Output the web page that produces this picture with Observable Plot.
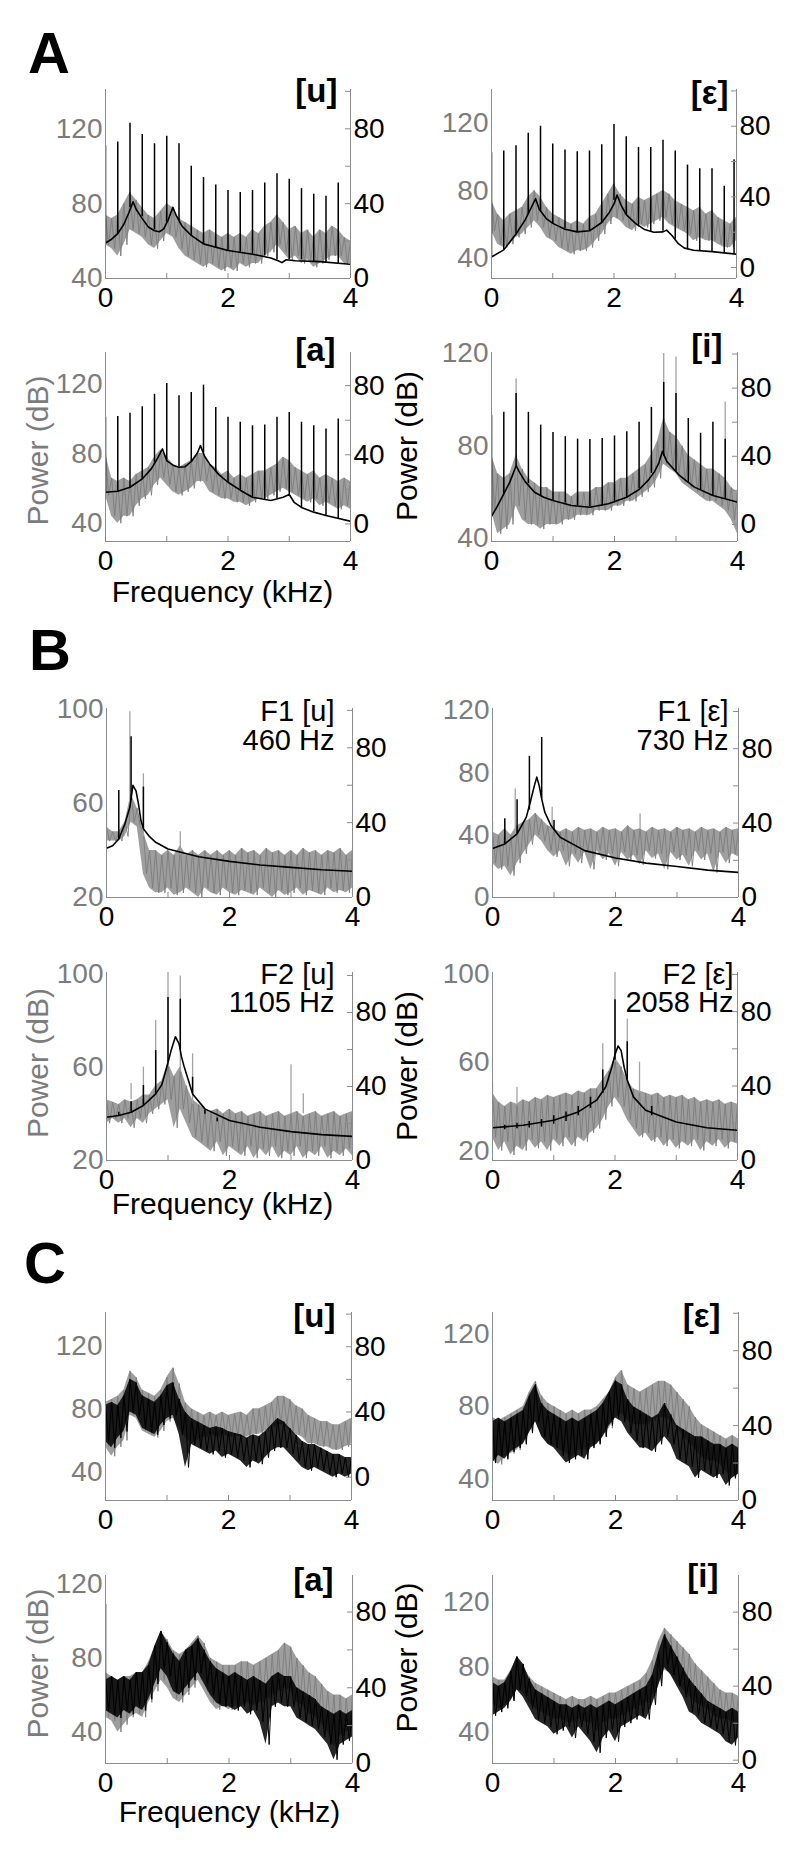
<!DOCTYPE html>
<html><head><meta charset="utf-8">
<script src="https://cdn.jsdelivr.net/npm/d3@7"></script>
<script src="https://cdn.jsdelivr.net/npm/@observablehq/plot@0.6"></script>
<style>
html,body{margin:0;padding:0;background:#fff}
body{width:800px;height:1857px;position:relative;overflow:hidden;font-family:"Liberation Sans",Arial,sans-serif}
</style></head>
<body>
<svg id="ov" width="800" height="1857" style="position:absolute;left:0;top:0" font-family="Liberation Sans, Arial, sans-serif"></svg>
<script>
// ---------- shared grids / ticks ----------
const FREQ = [0,0.1,0.2,0.3,0.4,0.5,0.6,0.7,0.8,0.9,1,1.1,1.2,1.3,1.4,1.5,1.6,1.7,1.8,1.9,2,2.1,2.2,2.3,2.4,2.5,2.6,2.7,2.8,2.9,3,3.1,3.2,3.3,3.4,3.5,3.6,3.7,3.8,3.9,4];
const HARM_F = [0,0.2,0.4,0.6,0.8,1.0,1.2,1.4,1.6,1.8,2.0,2.2,2.4,2.6,2.8,3.0,3.2,3.4,3.6,3.8];
const X_LABELS = [0,2,4];
const X_MINOR = [0,1,2,3,4];
const RIGHT_LABELS = [0,40,80];
const RIGHT_MINOR = [0,20,40,60,80,100];

// ---------- A [u] ----------
const A_u_grayHi = [74,72,74,80,86,82,78,74,72,76,80,78,72,70,68,66,64,66,64,62,64,62,64,62,66,64,68,70,74,70,66,68,64,66,62,66,64,68,66,62,60];
const A_u_grayLo = [58,56,52,58,66,64,62,58,56,60,64,62,56,52,50,48,46,48,46,44,46,44,48,46,48,48,52,54,58,54,50,52,48,50,46,48,50,52,52,48,48];
const A_u_harmTop = [71,73,83,77,72,76,72,60,54,50,47,46,47,51,56,53,48,45,44,51];
const A_u_harmBase = [19,24,38,33,26,30,31,23,18,16,15,14,13,12,10,10,10,9,8.5,8];
const A_u_envF = [0,0.1,0.2,0.3,0.38,0.45,0.5,0.6,0.7,0.8,0.88,0.95,1.02,1.1,1.15,1.25,1.4,1.6,2.0,2.4,2.7,2.82,2.88,2.95,3.1,3.5,4.0];
const A_u_envV = [19,21,24,29,35,41,37,32,27.5,25.5,25,26.5,31,38,34,28,23,18.5,15,13,11,9.5,8.5,10,9.5,9,7.6];

// ---------- A [ε] ----------
const A_e_grayHi = [74,66,62,66,68,70,76,80,76,70,66,64,62,60,62,60,64,66,72,78,84,78,74,72,76,74,76,78,80,78,74,72,70,68,70,66,68,64,62,60,64];
const A_e_grayLo = [56,48,46,48,52,54,58,62,58,52,50,46,44,42,44,44,46,50,54,60,64,62,58,56,60,58,60,62,64,60,58,56,54,50,52,50,50,48,46,46,50];
const A_e_harmF = [0,0.2,0.4,0.6,0.8,1.0,1.2,1.4,1.6,1.8,2.0,2.2,2.4,2.6,2.8,3.0,3.2,3.4,3.6,3.8,3.96];
const A_e_harmTop = [65,66,69,76,80,70,66.5,65.5,66,69.5,81,74,68,68,72,66,58,56,56,46,61];
const A_e_harmBase = [6,10,19,30,32,25,22,20,21,25.5,38,30,23,20,20.5,16,10.5,9.5,9,8.5,7.8];
const A_e_envF = [0,0.2,0.4,0.55,0.65,0.72,0.78,0.9,1.0,1.2,1.4,1.6,1.8,1.92,2.0,2.05,2.12,2.2,2.35,2.5,2.65,2.8,2.86,2.95,3.05,3.15,3.3,3.6,4.0];
const A_e_envV = [6,10,19,27,34,39,33,27.5,25,21.7,20.2,20.8,25.5,31,36,41,35,30,25,21.5,20,20.2,21.2,18,13.5,11,9.8,9,7.6];

// ---------- A [a] ----------
const A_a_grayHi = [80,66,64,66,64,68,70,72,78,82,78,74,72,74,76,80,80,74,72,68,70,66,68,66,68,70,70,72,74,78,76,72,70,68,70,66,68,66,64,66,64];
const A_a_grayLo = [56,44,40,44,44,50,54,56,62,66,62,58,56,58,60,64,64,58,56,54,54,52,52,50,52,54,54,56,58,60,58,56,54,52,54,50,52,50,48,50,48];
const A_a_harmTop = [61.7,62.2,64,67.8,75,81.3,74.2,76.1,80.3,67.4,61.7,58.8,56.8,57.2,61.7,64.5,58.8,56.8,54.9,60.7];
const A_a_harmBase = [18.3,18.9,21.2,26,35.6,37,32.8,36,41,30,24,19.5,15.4,14,14.5,17,9,7,4.8,3];
const A_a_envF = [0,0.2,0.4,0.6,0.75,0.85,0.93,1.0,1.1,1.2,1.3,1.4,1.5,1.55,1.62,1.7,1.85,2.0,2.2,2.4,2.7,2.9,3.0,3.08,3.2,3.4,3.6,4.0];
const A_a_envV = [18.3,18.9,21.2,26,32,38,43.4,36.6,34,32.8,33.1,36,41,45.3,39,34.7,28.5,24.1,19.5,15.4,13.5,15.4,17,12.5,9.5,6.8,4.8,1.5];

// ---------- A [i] ----------
const A_i_grayHi = [76,68,66,68,76,70,66,64,62,62,60,60,60,58,60,60,60,62,62,64,64,66,66,68,70,72,76,82,92,86,84,80,76,74,72,70,70,68,66,62,60];
const A_i_grayLo = [52,42,44,46,54,48,46,46,44,46,46,46,48,48,50,50,50,52,52,52,54,54,56,56,58,60,62,66,72,70,68,64,62,60,58,56,56,54,52,48,42];
const A_i_tipF = [0,0.4,2.8,3.0,3.8];
const A_i_tipTop = [93,109,120,118.5,99];
const A_i_tipBase = [76,66,85,80,62];
const A_i_harmTop = [63.8,65.8,76.9,65.8,58.3,54,51.5,50.1,49.8,50.5,51.9,54.4,59.9,68.7,83.3,76.9,62.2,53.5,60,50];
const A_i_harmBase = [4.7,18,33,24,17,14,12.5,11,10.2,10.8,12.5,15.5,21,30,40,30.6,24,20,17,15];
const A_i_envF = [0,0.1,0.2,0.3,0.4,0.45,0.55,0.7,0.85,1.0,1.3,1.6,1.9,2.2,2.4,2.55,2.65,2.72,2.78,2.85,2.95,3.05,3.3,3.6,4.0];
const A_i_envV = [4.7,11,18,25,34.5,31,25,18.9,16,14,11.1,10.1,12.1,16,20.5,26,31,36,42.9,37,33,29,21.9,17,13.1];

// ---------- B F1 [u] ----------
const B_1u_grayHi = [50,48,48,52,64,58,48,40,40,38,40,38,42,38,40,38,40,38,40,38,40,38,41,39,40,38,41,39,40,38,40,38,41,39,40,38,40,39,41,38,40];
const B_1u_grayLo = [44,44,44,46,52,50,30,24,22,22,24,21,22,24,22,20,24,22,21,24,22,21,23,22,21,24,22,20,23,21,22,24,21,23,22,21,24,22,23,22,24];
const B_1u_tipF = [0,0.38,0.6,1.2];
const B_1u_tipTop = [56,99,72.6,48];
const B_1u_tipBase = [46,60,46,38];
const B_1u_harmF = [0.2,0.4,0.6];
const B_1u_harmTop = [57.2,85.9,59];
const B_1u_harmBase = [31.3,51.9,36.7];
const B_1u_envF = [0,0.1,0.2,0.3,0.38,0.43,0.48,0.52,0.56,0.6,0.7,0.8,1.0,1.5,2.0,2.5,3.0,3.5,4.0];
const B_1u_envV = [26.3,27.7,31.3,39.4,48.3,59.9,57,50,41.1,36.7,32.5,29.5,25.9,21.8,19.3,17.4,16.1,14.8,14];

// ---------- B F1 [ε] ----------
const B_1e_grayHi = [42,40,44,40,46,48,50,54,50,46,44,42,44,42,45,43,44,42,45,43,44,42,46,43,44,42,45,43,44,42,45,43,44,42,45,43,44,42,45,43,44];
const B_1e_grayLo = [22,18,20,14,22,28,34,40,36,30,26,30,20,28,22,29,18,30,24,28,20,29,24,27,21,30,25,28,18,29,24,27,20,30,24,28,16,29,22,28,26];
const B_1e_tipF = [0,0.37,0.97,2.4];
const B_1e_tipTop = [48,69.6,57.8,53.5];
const B_1e_tipBase = [40,36,42,44];
const B_1e_harmF = [0.2,0.4,0.6,0.8,1.0];
const B_1e_harmTop = [42.3,52.5,75.9,86,41.4];
const B_1e_harmBase = [28.8,34.2,47,53,36];
const B_1e_envF = [0,0.2,0.4,0.55,0.62,0.68,0.72,0.76,0.8,0.85,0.95,1.1,1.5,2.0,2.5,3.0,3.5,4.0];
const B_1e_envV = [26.4,28.8,34.2,43.2,52,60,64.7,60,53,45.9,38.7,32.4,25.2,21.2,18.5,16.7,14.7,13.5];

// ---------- B F2 [u] ----------
const B_2u_grayHi = [46,45,44,46,45,46,48,48,52,54,62,56,60,52,46,44,42,41,42,40,42,40,41,39,40,41,39,40,41,39,40,41,39,40,41,39,40,41,39,40,41];
const B_2u_grayLo = [36,38,36,38,34,38,36,40,42,44,46,34,42,36,30,28,26,24,28,22,26,24,22,26,21,25,22,26,21,24,22,26,21,24,22,26,21,24,22,25,22];
const B_2u_tipF = [0.4,0.6,0.8,1.0,1.2,1.4,3.0,3.2];
const B_2u_tipTop = [53,60,80,100.7,99,65.7,61,48.6];
const B_2u_tipBase = [46,47,48,60,58,44,40,40];
const B_2u_harmF = [0.2,0.4,0.6,0.8,1.0,1.2,1.4,1.6,1.8];
const B_2u_harmTop = [26.1,31.8,40.5,59.4,88.1,87.2,45,27,23];
const B_2u_harmBase = [24.3,26.1,29.7,36,53,60,36,25,21];
const B_2u_envF = [0,0.2,0.4,0.6,0.8,0.9,0.95,1.0,1.05,1.12,1.18,1.22,1.26,1.3,1.4,1.6,2.0,2.5,3.0,3.5,4.0];
const B_2u_envV = [23.4,24.3,26.1,29.7,36,41,46.8,53,59.4,66.9,63,56,51,46.8,36,27.9,21.6,18,15.6,14,13];

// ---------- B F2 [ε] ----------
const B_2e_grayHi = [46,42,40,42,41,43,42,44,43,45,44,45,46,45,47,46,48,48,52,56,62,58,52,48,47,46,45,46,44,45,44,45,43,44,42,43,42,43,41,42,41];
const B_2e_grayLo = [26,20,24,18,22,20,25,21,24,20,25,22,26,22,26,24,28,30,34,40,44,40,34,30,26,28,24,26,22,25,21,24,22,25,20,24,22,25,21,24,23];
const B_2e_tipF = [0,0.4,1.8,2.0,2.2,2.4];
const B_2e_tipTop = [51,48.7,68.3,100.8,79.6,60];
const B_2e_tipBase = [40,40,50,60,54,46];
const B_2e_harmF = [0.2,0.4,0.6,0.8,1.0,1.2,1.4,1.6,1.8,2.0,2.2,2.6];
const B_2e_harmTop = [19,20,21,22,24,26,29,34,48.6,86.3,63.8,29];
const B_2e_harmBase = [16.5,17,17.5,18,19.5,21,24,28,36,54,43.2,24];
const B_2e_envF = [0,0.5,1.0,1.4,1.7,1.85,1.95,2.0,2.05,2.1,2.15,2.2,2.3,2.5,3.0,3.5,4.0];
const B_2e_envV = [17.6,18.9,21.6,26.1,32.4,39.6,50.4,57,61.5,59,50,43.2,34.2,27,20.7,17.6,16.2];

// ---------- C [u] ----------
const C_u_grayHi = [84,86,88,92,104,100,92,90,88,92,100,106,96,84,80,78,76,78,76,78,76,77,78,76,80,80,82,84,88,88,86,82,80,76,74,72,72,70,70,72,74];
const C_u_grayLo = [56,50,56,60,76,74,66,64,62,66,72,74,68,62,58,60,62,64,62,64,62,63,62,62,64,64,66,68,70,70,66,64,62,58,58,56,56,54,54,56,58];
const C_u_blackHi = [44,46,44,50,60,58,50,48,46,50,56,58,48,40,36,34,32,30,31,30,28,27,26,24,26,25,28,32,36,34,30,26,22,20,20,18,16,14,14,12,12];
const C_u_blackLo = [22,18,24,28,40,38,30,28,26,32,36,38,26,6,20,18,16,14,16,12,14,12,10,6,10,8,12,16,18,18,14,10,6,4,6,4,2,0,2,0,2];

// ---------- C [ε] ----------
const C_e_grayHi = [74,72,74,76,78,80,88,94,86,82,80,78,76,78,76,78,78,80,84,88,96,100,92,90,88,90,92,94,94,92,88,84,80,74,70,68,66,64,62,64,62];
const C_e_grayLo = [50,48,52,54,56,60,66,72,64,60,58,56,54,52,56,56,58,60,64,68,74,76,72,70,70,70,72,74,74,72,68,64,60,56,52,50,50,48,44,40,44];
const C_e_blackHi = [42,44,42,44,46,48,56,62,52,48,46,44,42,44,42,44,46,48,52,58,64,62,54,50,48,46,44,46,52,46,40,38,36,34,34,32,30,30,28,30,28];
const C_e_blackLo = [20,24,22,26,28,30,36,42,34,30,28,24,20,22,24,22,28,30,34,40,44,42,36,32,28,28,26,30,34,30,22,20,18,12,16,14,12,14,8,12,14];

// ---------- C [a] ----------
const C_a_grayHi = [72,70,68,70,70,72,72,78,86,94,90,84,82,84,88,92,88,80,78,76,76,76,78,78,76,78,80,82,84,88,86,80,76,72,70,66,62,60,60,58,60];
const C_a_grayLo = [48,46,40,44,48,50,48,56,62,68,64,58,56,60,64,68,62,56,52,54,52,54,54,56,54,56,58,60,62,64,62,56,54,50,48,44,40,32,38,40,42];
const C_a_blackHi = [44,46,44,46,44,48,48,52,62,70,64,58,54,60,62,66,60,54,50,48,46,48,46,44,46,44,42,46,48,46,46,40,38,36,34,30,28,26,28,26,28];
const C_a_blackLo = [28,26,24,28,26,30,28,34,42,50,46,38,36,40,44,48,42,36,32,30,30,28,30,26,28,22,10,30,32,30,30,24,22,20,18,14,10,2,10,12,14];
const C_a_spikeF = [0];
const C_a_spikeTop = [84];
const C_a_spikeBase = [44];

// ---------- C [i] ----------
const C_i_grayHi = [74,72,72,78,86,80,74,70,68,66,64,62,60,62,60,60,62,60,62,64,64,66,68,70,72,76,84,96,104,100,96,92,88,82,78,74,70,66,64,64,62];
const C_i_grayLo = [58,54,56,60,66,64,58,54,52,50,48,48,46,46,48,46,46,40,46,48,48,50,52,54,56,58,62,70,78,76,70,66,62,58,56,54,50,48,48,46,44];
const C_i_blackHi = [42,40,42,48,56,52,44,38,36,34,32,30,30,28,30,28,30,28,30,32,30,32,34,36,38,40,46,58,68,62,56,50,44,40,36,32,30,28,26,28,26];
const C_i_blackLo = [24,26,28,32,38,34,28,22,20,18,14,16,18,12,18,14,10,4,12,16,10,18,20,22,24,22,30,40,50,46,40,34,26,24,20,18,16,14,10,8,12];

// ---------- layout (positions / styles) ----------
const PANELS = [
  {col:0,x0:105,x1:350,y0:89,y1:278,left:[40,141],right:[0,101],lt:[40,80,120],title:"[u]",tdx:-13,tdy:12,
   gHi:A_u_grayHi,gLo:A_u_grayLo,hF:HARM_F,hT:A_u_harmTop,hB:A_u_harmBase,eF:A_u_envF,eV:A_u_envV},
  {col:1,x0:491,x1:736,y0:89,y1:278,left:[27.5,140.3],right:[-6.2,100.8],lt:[40,80,120],title:"[ε]",tdx:-8,tdy:14,
   gHi:A_e_grayHi,gLo:A_e_grayLo,hF:A_e_harmF,hT:A_e_harmTop,hB:A_e_harmBase,eF:A_e_envF,eV:A_e_envV},
  {col:0,x0:105,x1:350,y0:352,y1:541,left:[29.5,138],right:[-10.2,99.2],lt:[40,80,120],title:"[a]",tdx:-15,tdy:8,
   gHi:A_a_grayHi,gLo:A_a_grayLo,hF:HARM_F,hT:A_a_harmTop,hB:A_a_harmBase,eF:A_a_envF,eV:A_a_envV},
  {col:1,x0:491,x1:737,y0:352,y1:541,left:[38.6,120.4],right:[-10,100.9],lt:[40,80,120],title:"[i]",tdx:-15,tdy:4,
   gHi:A_i_grayHi,gLo:A_i_grayLo,tF:A_i_tipF,tT:A_i_tipTop,tB:A_i_tipBase,hF:HARM_F,hT:A_i_harmTop,hB:A_i_harmBase,eF:A_i_envF,eV:A_i_envV},
  {col:0,x0:106,x1:352,y0:708,y1:897,left:[20,100.4],right:[0,101],lt:[20,60,100],title:"F1 [u]\n460 Hz",two:true,tdx:-18,tdy:-7,
   gHi:B_1u_grayHi,gLo:B_1u_grayLo,tF:B_1u_tipF,tT:B_1u_tipTop,tB:B_1u_tipBase,hF:B_1u_harmF,hT:B_1u_harmTop,hB:B_1u_harmBase,eF:B_1u_envF,eV:B_1u_envV},
  {col:1,x0:492,x1:738,y0:708,y1:897,left:[0,121],right:[0,101.6],lt:[0,40,80,120],title:"F1 [ε]\n730 Hz",two:true,tdx:-10,tdy:-7,
   gHi:B_1e_grayHi,gLo:B_1e_grayLo,tF:B_1e_tipF,tT:B_1e_tipTop,tB:B_1e_tipBase,hF:B_1e_harmF,hT:B_1e_harmTop,hB:B_1e_harmBase,eF:B_1e_envF,eV:B_1e_envV},
  {col:0,x0:106,x1:352,y0:972,y1:1160,left:[20,100.5],right:[0,101.6],lt:[20,60,100],title:"F2 [u]\n1105 Hz",two:true,tdx:-18,tdy:-8.5,
   gHi:B_2u_grayHi,gLo:B_2u_grayLo,tF:B_2u_tipF,tT:B_2u_tipTop,tB:B_2u_tipBase,hF:B_2u_harmF,hT:B_2u_harmTop,hB:B_2u_harmBase,eF:B_2u_envF,eV:B_2u_envV},
  {col:1,x0:492,x1:737,y0:972,y1:1160,left:[15.5,100.6],right:[0,101],lt:[20,60,100],title:"F2 [ε]\n2058 Hz",two:true,tdx:-4,tdy:-8.5,
   gHi:B_2e_grayHi,gLo:B_2e_grayLo,tF:B_2e_tipF,tT:B_2e_tipTop,tB:B_2e_tipBase,hF:B_2e_harmF,hT:B_2e_harmTop,hB:B_2e_harmBase,eF:B_2e_envF,eV:B_2e_envV},
  {col:0,x0:105,x1:351,y0:1312,y1:1500,left:[22,141],right:[-14.3,101],lt:[40,80,120],title:"[u]",tdx:-16,tdy:14.5,
   gHi:C_u_grayHi,gLo:C_u_grayLo,bHi:C_u_blackHi,bLo:C_u_blackLo},
  {col:1,x0:492,x1:738,y0:1312,y1:1500,left:[28,132],right:[0,100.4],lt:[40,80,120],title:"[ε]",tdx:-18,tdy:14.5,
   gHi:C_e_grayHi,gLo:C_e_grayLo,bHi:C_e_blackHi,bLo:C_e_blackLo},
  {col:0,x0:105,x1:352,y0:1575,y1:1763,left:[23,124.5],right:[0,99.3],lt:[40,80,120],title:"[a]",tdx:-19,tdy:15,
   gHi:C_a_grayHi,gLo:C_a_grayLo,bHi:C_a_blackHi,bLo:C_a_blackLo,hF:C_a_spikeF,hT:C_a_spikeTop,hB:C_a_spikeBase},
  {col:1,x0:492,x1:738,y0:1575,y1:1763,left:[20.5,136.4],right:[-1.8,99.8],lt:[40,80,120],title:"[i]",tdx:-20,tdy:11,
   gHi:C_i_grayHi,gLo:C_i_grayLo,bHi:C_i_blackHi,bLo:C_i_blackLo}
];

const AX = "#8c8c8c", GRAY = "#7d7d7d", TIP = "#a3a3a3", GTXT = "#7c7c7c";
const FONT = "Liberation Sans, Arial, sans-serif";

function zig(hi, lo, map) {
  const pts = [];
  FREQ.forEach((f, i) => {
    pts.push({f, v: map(hi[i])});
    pts.push({f: Math.min(f + 0.05, 4), v: map(lo[i])});
  });
  return pts;
}
function band(hi, lo, map) {
  return FREQ.map((f, i) => ({f, hi: map(hi[i]), lo: map(lo[i])}));
}
function rows(F, T, B) { return F.map((f, i) => ({f, top: T[i], base: B[i]})); }

function drawPanel(p) {
  const [L0, L1] = p.left, [R0, R1] = p.right;
  const toL = r => L0 + (r - R0) * (L1 - L0) / (R1 - R0);
  const fromL = l => R0 + (l - L0) * (R1 - R0) / (L1 - L0);
  const id = v => v;
  const sx = p.col * 400, mt = 30, mb = 45;
  const pw = p.x1 - p.x0, ph = p.y1 - p.y0;
  const marks = [];
  // gray (left scale)
  marks.push(Plot.areaY(band(p.gHi, p.gLo, id), {x: "f", y1: "lo", y2: "hi", fill: GRAY, fillOpacity: 0.75, clip: true}));
  marks.push(Plot.line(zig(p.gHi, p.gLo, id), {x: "f", y: "v", stroke: GRAY, strokeWidth: 0.9, clip: true}));
  if (p.tF) marks.push(Plot.ruleX(rows(p.tF, p.tT, p.tB), {x: "f", y1: "base", y2: "top", stroke: TIP, strokeWidth: 1.3, clip: true}));
  // black (right scale)
  if (p.bHi) {
    marks.push(Plot.areaY(band(p.bHi, p.bLo, toL), {x: "f", y1: "lo", y2: "hi", fill: "black", fillOpacity: 0.85, clip: true}));
    marks.push(Plot.line(zig(p.bHi, p.bLo, toL), {x: "f", y: "v", stroke: "black", strokeWidth: 1, clip: true}));
  }
  if (p.hF) marks.push(Plot.ruleX(rows(p.hF, p.hT, p.hB), {x: "f", y1: d => toL(d.base), y2: d => toL(d.top), stroke: "black", strokeWidth: 1.5, clip: true}));
  if (p.eF) marks.push(Plot.line(p.eF.map((f, i) => ({f, v: p.eV[i]})), {x: "f", y: d => toL(d.v), stroke: "black", strokeWidth: 1.6, clip: true}));
  // frame lines and inward ticks
  marks.push(Plot.ruleX([0, 4], {x: id, stroke: AX, strokeWidth: 1}));
  marks.push(Plot.ruleY([L0], {y: id, stroke: AX, strokeWidth: 1}));
  marks.push(Plot.tickX(X_MINOR, {x: id, insetTop: ph - 5, stroke: AX}));
  marks.push(Plot.tickY(RIGHT_MINOR.filter(r => r >= R0 && r <= R1).map(toL), {y: id, insetLeft: pw - 5, stroke: AX}));
  // axes
  marks.push(Plot.axisY({anchor: "left", ticks: p.lt, tickFormat: d => String(d), tickSize: 0, tickPadding: 3, fill: GTXT, fontSize: 28, label: null}));
  marks.push(Plot.axisY({anchor: "right", ticks: RIGHT_LABELS.map(toL), tickFormat: d => String(Math.round(fromL(d))), tickSize: 0, tickPadding: 3, fill: "black", fontSize: 28, label: null}));
  marks.push(Plot.axisX({anchor: "bottom", ticks: X_LABELS, tickFormat: d => String(d), tickSize: 0, tickPadding: 9, fill: "black", fontSize: 28, label: null}));
  // title
  marks.push(Plot.text([p.title], {text: id, frameAnchor: "top-right", textAnchor: "end",
    lineAnchor: p.two ? "top" : "bottom", lineHeight: 0.97, dx: p.tdx, dy: p.tdy,
    fontSize: p.two ? 29 : 33, fontWeight: p.two ? "normal" : "bold", fill: "black"}));

  const svg = Plot.plot({
    width: 400, height: ph + mt + mb,
    marginLeft: p.x0 - sx, marginRight: sx + 400 - p.x1, marginTop: mt, marginBottom: mb,
    x: {domain: [0, 4], axis: null}, y: {domain: [L0, L1], axis: null},
    style: {background: "transparent", overflow: "visible", fontFamily: FONT, fontSize: "28px", color: "black"},
    marks
  });
  svg.style.position = "absolute";
  svg.style.left = sx + "px";
  svg.style.top = (p.y0 - mt) + "px";
  document.body.appendChild(svg);
}
PANELS.forEach(drawPanel);

// ---------- annotations ----------
const ov = document.getElementById("ov");
const notes = [
  {x: 28, y: 73, s: 58, w: "bold", t: "A"},
  {x: 29, y: 670, s: 58, w: "bold", t: "B"},
  {x: 24, y: 1283, s: 58, w: "bold", t: "C"},
  {x: 222.5, y: 601.5, s: 30, t: "Frequency (kHz)", a: "middle"},
  {x: 222.5, y: 1214, s: 30, t: "Frequency (kHz)", a: "middle"},
  {x: 229.5, y: 1821.5, s: 30, t: "Frequency (kHz)", a: "middle"},
  {x: 48, y: 450.5, s: 30, t: "Power (dB)", a: "middle", r: true, c: GTXT},
  {x: 48, y: 1063, s: 30, t: "Power (dB)", a: "middle", r: true, c: GTXT},
  {x: 48, y: 1663.5, s: 30, t: "Power (dB)", a: "middle", r: true, c: GTXT},
  {x: 417, y: 446, s: 30, t: "Power (dB)", a: "middle", r: true},
  {x: 417, y: 1066, s: 30, t: "Power (dB)", a: "middle", r: true},
  {x: 417, y: 1657.5, s: 30, t: "Power (dB)", a: "middle", r: true}
];
for (const n of notes) {
  const el = document.createElementNS("http://www.w3.org/2000/svg", "text");
  if (n.r) el.setAttribute("transform", `translate(${n.x},${n.y}) rotate(-90)`);
  else { el.setAttribute("x", n.x); el.setAttribute("y", n.y); }
  el.setAttribute("font-size", n.s);
  if (n.w) el.setAttribute("font-weight", n.w);
  if (n.a) el.setAttribute("text-anchor", n.a);
  el.setAttribute("fill", n.c || "black");
  el.textContent = n.t;
  ov.appendChild(el);
}
</script>
</body></html>
